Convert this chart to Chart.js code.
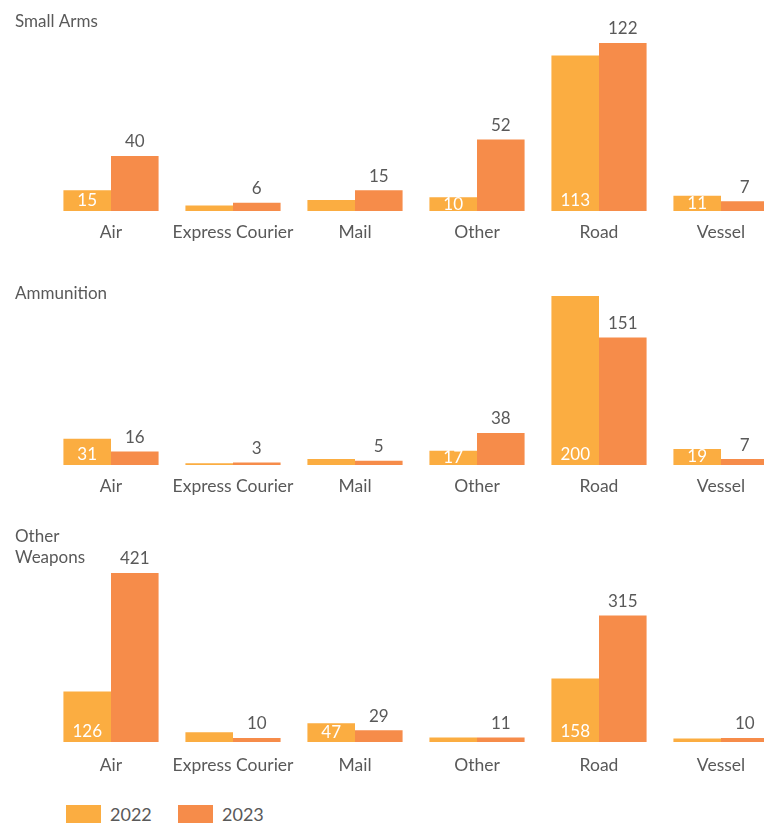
<!DOCTYPE html>
<html>
<head>
<meta charset="utf-8">
<title>Seizures by mode of transport</title>
<script src="https://cdn.jsdelivr.net/npm/chart.js@4.4.1/dist/chart.umd.min.js"></script>
<style>
  html, body { margin: 0; padding: 0; background: #fff; }
  body { width: 764px; height: 823px; overflow: hidden; position: relative; font-family: Lato, sans-serif; }
  canvas { position: absolute; left: 0; }
  .key { position: absolute; top: 805px; width: 35px; height: 18px; }
  .key-label { position: absolute; top: 805px; height: 18px; line-height: 18px; font-size: 18px; color: #595959; }
</style>
</head>
<body>
<canvas id="smallArms" width="782" height="254" style="top:0px"></canvas>
<canvas id="ammunition" width="782" height="238" style="top:270px"></canvas>
<canvas id="otherWeapons" width="782" height="278" style="top:510px"></canvas>

<div class="key" id="key2022" style="left:66px"></div>
<span class="key-label" id="label2022" style="left:110px"></span>
<div class="key" id="key2023" style="left:178px"></div>
<span class="key-label" id="label2023" style="left:222px"></span>

<script>
const categories = ['Air', 'Express Courier', 'Mail', 'Other', 'Road', 'Vessel'];
const seriesNames = ['2022', '2023'];

const smallArms2022 = [15, 4, 8, 10, 113, 11];
const smallArms2023 = [40, 6, 15, 52, 122, 7];

const ammunition2022 = [31, 2, 7, 17, 200, 19];
const ammunition2023 = [16, 3, 5, 38, 151, 7];

const otherWeapons2022 = [126, 24, 47, 11, 158, 9];
const otherWeapons2023 = [421, 10, 29, 11, 315, 10];

const color2022 = '#fbad41';
const color2023 = '#f68c4a';
const textGray = '#595959';

// 2022 values sit inside the bar in white, 2023 values float above the bar
const valueLabels = {
  id: 'valueLabels',
  afterDatasetsDraw(chart) {
    const ctx = chart.ctx;
    ctx.save();
    ctx.font = '17px Lato';
    ctx.textAlign = 'center';
    ctx.textBaseline = 'middle';
    chart.data.datasets.forEach((ds, i) => {
      chart.getDatasetMeta(i).data.forEach((bar, j) => {
        const v = ds.data[j];
        if (i === 0) {
          if (bar.base - bar.y < 12.5) return; // too short to hold the number
          ctx.fillStyle = '#fff';
          ctx.fillText(v, bar.x, Math.max(bar.base - 10.5, (bar.y + bar.base) / 2));
        } else {
          ctx.fillStyle = textGray;
          ctx.fillText(v, bar.x, bar.y - 14);
        }
      });
    });
    ctx.restore();
  }
};

function drawPanel(id, title, v22, v23, titlePad, tickPad) {
  new Chart(document.getElementById(id), {
    type: 'bar',
    data: {
      labels: categories,
      datasets: [
        { label: seriesNames[0], data: v22, backgroundColor: color2022 },
        { label: seriesNames[1], data: v23, backgroundColor: color2023 }
      ]
    },
    options: {
      responsive: false,
      animation: false,
      layout: { padding: { left: 15, right: 0, top: 0, bottom: 0 } },
      datasets: { bar: { categoryPercentage: 0.78, barPercentage: 1 } },
      plugins: {
        legend: { display: false },
        tooltip: { enabled: false },
        title: {
          display: true,
          text: title,
          align: 'start',
          color: textGray,
          font: { family: 'Lato', size: 17, weight: 'normal', lineHeight: '21px' },
          padding: titlePad
        }
      },
      scales: {
        x: {
          grid: { display: false, drawTicks: false },
          border: { display: false },
          ticks: { color: textGray, font: { family: 'Lato', size: 17.5, lineHeight: '21px' }, padding: tickPad, autoSkip: false, maxRotation: 0 }
        },
        y: {
          min: 0,
          max: Math.max(...v22, ...v23),
          grid: { display: false },
          border: { display: false },
          ticks: { display: false },
          afterFit: scale => { scale.width = 35; }
        }
      }
    },
    plugins: [valueLabels]
  });
}

drawPanel('smallArms', 'Small Arms', smallArms2022, smallArms2023, { top: 11.5, bottom: 10.5 }, 11);
drawPanel('ammunition', 'Ammunition', ammunition2022, ammunition2023, { top: 13.5, bottom: -8.5 }, 11);
drawPanel('otherWeapons', ['Other', 'Weapons'], otherWeapons2022, otherWeapons2023, { top: 16.5, bottom: 4.5 }, 12.5);

// legend
document.getElementById('key2022').style.background = color2022;
document.getElementById('key2023').style.background = color2023;
document.getElementById('label2022').textContent = seriesNames[0];
document.getElementById('label2023').textContent = seriesNames[1];
</script>
</body>
</html>
